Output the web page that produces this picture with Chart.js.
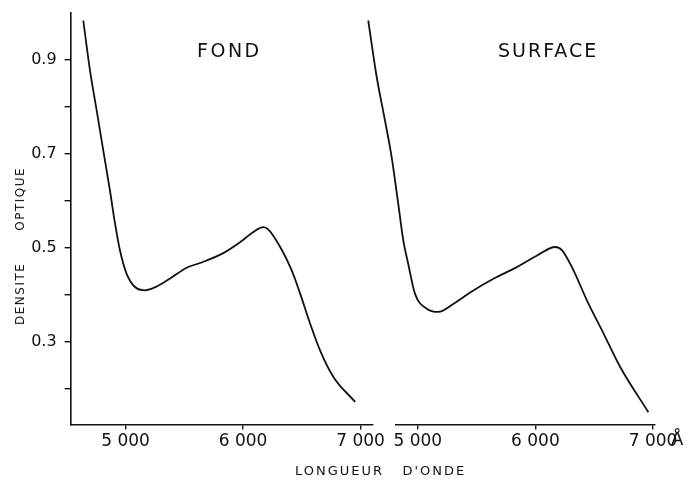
<!DOCTYPE html>
<html>
<head>
<meta charset="utf-8">
<script src="https://cdn.jsdelivr.net/npm/chart.js@4/dist/chart.umd.min.js"></script>
<style>
    body { margin: 0; background: #fff; }
    #wrap { position: relative; width: 694px; height: 481px; overflow: hidden; font-family: "DejaVu Sans", sans-serif; color: #111; }
    #wrap canvas { position: absolute; left: 0; top: 0; }
    .lbl { position: absolute; white-space: pre; line-height: 1; }
</style>
</head>
<body>
<div id="wrap">
    <canvas id="fond" width="694" height="481"></canvas>
    <canvas id="surface" width="694" height="481"></canvas>
    <div class="lbl" style="left:197px; top:41px; font-size:19px; letter-spacing:2.5px;">FOND</div>
    <div class="lbl" style="left:498px; top:41px; font-size:19px; letter-spacing:2px;">SURFACE</div>
    <div class="lbl" style="left:20px; top:246px; font-size:12px; letter-spacing:1.5px; transform: translate(-50%, -50%) rotate(-90deg);">DENSITE      OPTIQUE</div>
    <div class="lbl" style="left:295px; top:464px; font-size:13px; letter-spacing:2px;">LONGUEUR   D'ONDE</div>
    <div class="lbl" style="left:671px; top:430px; font-size:18px;">Å</div>
</div>
<script>
var fondWave = [4640, 4697, 4754, 4810, 4867, 4910, 4952, 5009, 5080, 5165, 5265, 5378, 5520, 5634, 5832, 5974, 6088, 6173, 6216, 6316, 6415, 6486, 6571, 6656, 6769, 6954]
var fondDensity = [0.983, 0.877, 0.792, 0.707, 0.622, 0.552, 0.495, 0.445, 0.417, 0.410, 0.418, 0.435, 0.458, 0.468, 0.489, 0.512, 0.534, 0.544, 0.539, 0.502, 0.452, 0.403, 0.339, 0.282, 0.226, 0.173]

var surfaceWave = [4579, 4651, 4721, 4778, 4834, 4877, 4919, 4976, 5076, 5174, 5308, 5449, 5647, 5817, 6015, 6170, 6227, 6325, 6439, 6580, 6721, 6961]
var surfaceDensity = [0.983, 0.863, 0.771, 0.693, 0.594, 0.516, 0.466, 0.403, 0.371, 0.364, 0.382, 0.406, 0.435, 0.456, 0.484, 0.502, 0.495, 0.452, 0.388, 0.318, 0.247, 0.151]

var xTickValues = [5000, 6000, 7000]
var xTickLabels = ["5 000", "6 000", "7 000"]
var yTickValues = [0.2, 0.3, 0.4, 0.5, 0.6, 0.7, 0.8, 0.9]
var yTickLabels = ["", "0.3", "", "0.5", "", "0.7", "", "0.9"]

var ink = "#111"

// points listed from the red end: the line controller then keeps every point,
// even those left of the axis start (the surface curve begins before it)
function points(xs, ys){
    return xs.map(function(x, i){ return {x: x, y: ys[i]} }).reverse()
}

function axisStyle(){
    return {
        grid: {display: true, drawOnChartArea: false, drawTicks: true, tickLength: 6, color: ink, lineWidth: 1.4},
        border: {display: true, color: ink, width: 1.6}
    }
}

// the plot boxes are placed by layout.padding alone: drop the room Chart.js keeps for edge labels
function noEdgePadding(scale){
    scale.paddingTop = 0
    scale.paddingBottom = 0
    scale.paddingLeft = 0
    scale.paddingRight = 0
}

function makePanel(id, xs, ys, xMin, xMax, pad, showY){
    var xAxis = Object.assign(axisStyle(), {
        type: "linear",
        min: xMin,
        max: xMax,
        afterBuildTicks: function(scale){
            scale.ticks = xTickValues.map(function(v){ return {value: v} })
        },
        afterFit: function(scale){
            scale.height = 56.5
            noEdgePadding(scale)
        },
        ticks: {
            color: ink,
            padding: 2,
            maxRotation: 0,
            font: {family: "DejaVu Sans", size: 17},
            callback: function(v, i){ return xTickLabels[i] }
        }
    })
    xAxis.grid.tickLength = 5

    var yAxis = Object.assign(axisStyle(), {
        display: showY,
        min: 0.125,
        max: 1.0,
        afterBuildTicks: function(scale){
            scale.ticks = yTickValues.map(function(v){ return {value: v} })
        },
        afterFit: function(scale){
            scale.width = showY ? 70.6 : 0
            noEdgePadding(scale)
        },
        ticks: {
            color: ink,
            padding: 8,
            font: {family: "DejaVu Sans", size: 16},
            callback: function(v, i){ return yTickLabels[i] }
        }
    })

    return new Chart(document.getElementById(id), {
        type: "line",
        data: {
            datasets: [{
                data: points(xs, ys),
                borderColor: ink,
                borderWidth: 1.8,
                pointRadius: 0,
                fill: false,
                cubicInterpolationMode: "monotone",
                // the curve may run past the plot edge, so don't pin the bezier handles to it
                capBezierPoints: false,
                clip: false
            }]
        },
        options: {
            responsive: false,
            animation: false,
            devicePixelRatio: 1,
            layout: {padding: pad},
            plugins: {legend: {display: false}, tooltip: {enabled: false}, title: {display: false}},
            scales: {x: xAxis, y: yAxis}
        }
    })
}

makePanel("fond", fondWave, fondDensity, 4532, 7100, {left: 0, top: 12.5, right: 694 - 372.3, bottom: 0}, true)
makePanel("surface", surfaceWave, surfaceDensity, 4815, 7017, {left: 396, top: 12.5, right: 694 - 655, bottom: 0}, false)
</script>
</body>
</html>
